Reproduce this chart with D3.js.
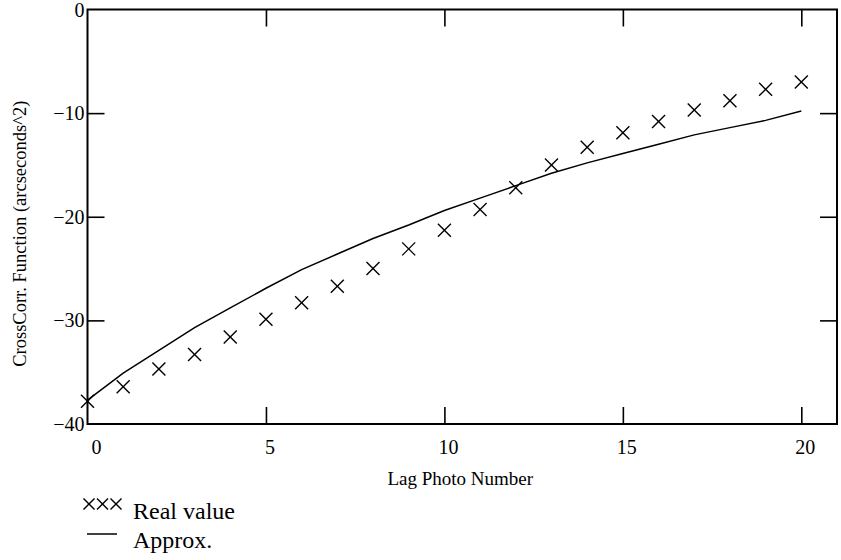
<!DOCTYPE html>
<html lang="en">
<head>
<meta charset="UTF-8">
<title>CrossCorr</title>
<style>
  body { margin: 0; background: #fff; }
  text { font-family: "Liberation Serif", "DejaVu Serif", serif; fill: #000; }
  .frame { fill: none; stroke: #000; stroke-width: 2px; }
  .tick line { stroke: #000; stroke-width: 1.6px; }
  .approx { fill: none; stroke: #000; stroke-width: 1.5px; }
  .cross { stroke: #000; stroke-width: 1.4px; }
</style>
</head>
<body>
<svg width="841" height="560"></svg>
<script src="https://d3js.org/d3.v7.min.js"></script>
<script>
// lag photo numbers
var lags = d3.range(0, 21);
// measured values (crosses)
var realValues = [-37.8, -36.4, -34.7, -33.3, -31.6, -29.9, -28.3, -26.7, -25.0, -23.1, -21.3,
                  -19.3, -17.2, -15.0, -13.3, -11.9, -10.8, -9.7, -8.8, -7.7, -7.0];
// approximation (line)
var approxValues = [-37.7, -35.1, -32.9, -30.7, -28.8, -26.9, -25.1, -23.6, -22.1, -20.8, -19.4,
                    -18.2, -17.0, -15.8, -14.8, -13.9, -13.0, -12.1, -11.4, -10.7, -9.8];
var xTicks = [0, 5, 10, 15, 20];
var yTicks = [0, -10, -20, -30, -40];

var svg = d3.select("svg"),
    margin = {top: 9.5, right: 4, bottom: 136, left: 87.5},
    width = +svg.attr("width") - margin.left - margin.right,
    height = +svg.attr("height") - margin.top - margin.bottom;

var x = d3.scaleLinear().domain([0, 21]).range([0, width]),
    y = d3.scaleLinear().domain([-40, 0]).range([height, 0]);

var g = svg.append("g")
    .attr("transform", "translate(" + margin.left + "," + margin.top + ")");

var tickLen = 17;

// inward ticks on all four sides
g.append("g").attr("class", "tick")
    .attr("transform", "translate(0," + height + ")")
    .call(d3.axisTop(x).tickValues(xTicks.filter(function (d) { return d > 0; })).tickSize(tickLen).tickFormat(""))
    .call(function (s) { s.select(".domain").remove(); });
g.append("g").attr("class", "tick")
    .call(d3.axisBottom(x).tickValues(xTicks.filter(function (d) { return d > 0; })).tickSize(tickLen).tickFormat(""))
    .call(function (s) { s.select(".domain").remove(); });
g.append("g").attr("class", "tick")
    .call(d3.axisRight(y).tickValues([-10, -20, -30]).tickSize(tickLen).tickFormat(""))
    .call(function (s) { s.select(".domain").remove(); });
g.append("g").attr("class", "tick")
    .attr("transform", "translate(" + width + ",0)")
    .call(d3.axisLeft(y).tickValues([-10, -20, -30]).tickSize(tickLen).tickFormat(""))
    .call(function (s) { s.select(".domain").remove(); });

g.append("rect").attr("class", "frame")
    .attr("width", width).attr("height", height);

// tick labels
var fmt = function (d) { return d < 0 ? "\u2212" + Math.abs(d) : String(d); };
g.selectAll(".ylab").data(yTicks).enter().append("text")
    .attr("x", -3).attr("y", function (d) { return y(d) + 7; })
    .attr("text-anchor", "end").style("font-size", "20px")
    .text(fmt);
g.selectAll(".xlab").data(xTicks).enter().append("text")
    .attr("x", function (d) { return x(d) + (d === 0 ? 9 : 4); })
    .attr("y", height + 30).attr("text-anchor", "middle").style("font-size", "20px")
    .text(fmt);

// axis titles
g.append("text").attr("x", width / 2 - 2).attr("y", height + 61)
    .attr("text-anchor", "middle").style("font-size", "19px").text("Lag Photo Number");
g.append("text")
    .attr("transform", "translate(-62," + (height / 2 + 17) + ") rotate(-90)")
    .attr("text-anchor", "middle").style("font-size", "18.5px")
    .text("CrossCorr. Function (arcseconds^2)");

// approximation line
var line = d3.line()
    .x(function (d, i) { return x(lags[i]); })
    .y(function (d) { return y(d); });
g.append("path").datum(approxValues).attr("class", "approx").attr("d", line);

// crosses
var cs = 6.5;
function cross(sel, s) {
  sel.append("line").attr("x1", -s).attr("y1", -s).attr("x2", s).attr("y2", s);
  sel.append("line").attr("x1", -s).attr("y1", s).attr("x2", s).attr("y2", -s);
}
g.selectAll(".pt").data(realValues).enter().append("g")
    .attr("class", "cross")
    .attr("transform", function (d, i) { return "translate(" + x(lags[i]) + "," + y(d) + ")"; })
    .each(function () { cross(d3.select(this), cs); });

// legend
var legend = svg.append("g").attr("transform", "translate(82,496)");
[7, 20.5, 34].forEach(function (cx) {
  var c = legend.append("g").attr("class", "cross").attr("transform", "translate(" + cx + ",8)");
  cross(c, 5.5);
});
legend.append("text").attr("x", 51).attr("y", 23).style("font-size", "24px").text("Real value");
legend.append("line").attr("x1", 5).attr("x2", 35).attr("y1", 38).attr("y2", 38)
    .attr("stroke", "#000").attr("stroke-width", 1.5);
legend.append("text").attr("x", 51).attr("y", 52).style("font-size", "24px").text("Approx.");
</script>
</body>
</html>
